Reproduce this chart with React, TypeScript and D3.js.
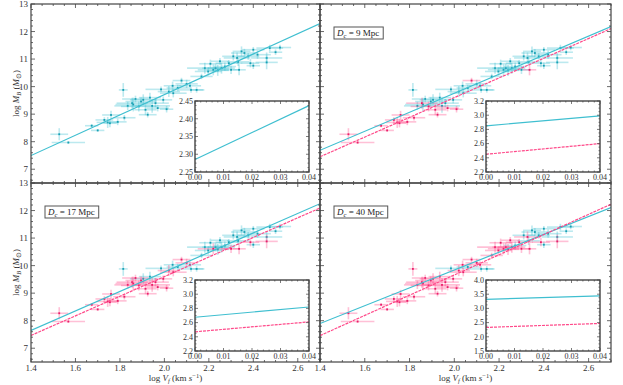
import React, { useEffect, useRef } from "react";
import * as d3 from "d3";

// galaxy sample: log V_f, log M_B, errors, distance (Mpc)
const logV = [1.527, 1.568, 1.673, 1.7, 1.73, 1.745, 1.755, 1.76, 1.79, 1.815, 1.82, 1.835, 1.855, 1.86, 1.87, 1.885,
  1.895, 1.905, 1.915, 1.925, 1.935, 1.945, 1.96, 1.97, 1.985, 1.995, 2.01, 2.02, 2.037, 2.04, 2.06, 2.077,
  2.1, 2.115, 2.12, 2.145, 2.167, 2.182, 2.197, 2.207, 2.22, 2.23, 2.24, 2.25, 2.257, 2.272, 2.29, 2.3,
  2.31, 2.327, 2.332, 2.336, 2.347, 2.36, 2.377, 2.387, 2.4, 2.4, 2.419, 2.46, 2.46, 2.474, 2.5, 2.52];
const logM = [8.27, 7.97, 8.58, 8.41, 8.79, 8.7, 8.67, 8.97, 8.72, 9.88, 8.87, 9.3, 9.4, 9.35, 9.55, 9.28,
  9.46, 9.52, 9.16, 8.98, 9.6, 9.3, 9.4, 9.22, 9.9, 9.52, 9.18, 9.82, 10.03, 9.76, 9.95, 10.22,
  10.1, 10.03, 9.88, 9.88, 10.37, 10.67, 10.55, 10.83, 10.61, 10.67, 10.59, 10.92, 10.67, 10.73, 10.85, 10.61,
  11.1, 11.04, 10.9, 10.61, 11.28, 11.22, 11.1, 10.85, 11.34, 10.76, 11.16, 11.04, 10.88, 11.4, 11.25, 11.42];
const errV = [0.04, 0.075, 0.03, 0.03, 0.04, 0.05, 0.03, 0.04, 0.04, 0.02, 0.05, 0.06, 0.07, 0.08, 0.06, 0.08,
  0.07, 0.06, 0.05, 0.04, 0.05, 0.08, 0.06, 0.05, 0.07, 0.04, 0.03, 0.05, 0.04, 0.06, 0.05, 0.04,
  0.05, 0.05, 0.06, 0.03, 0.05, 0.08, 0.06, 0.05, 0.07, 0.06, 0.05, 0.04, 0.06, 0.05, 0.06, 0.04,
  0.05, 0.06, 0.05, 0.03, 0.04, 0.06, 0.05, 0.04, 0.05, 0.03, 0.06, 0.07, 0.05, 0.06, 0.03, 0.05];
const errM = [0.22, 0.05, 0.06, 0.05, 0.1, 0.2, 0.15, 0.15, 0.12, 0.25, 0.1, 0.15, 0.2, 0.25, 0.12, 0.18,
  0.15, 0.2, 0.2, 0.1, 0.18, 0.25, 0.15, 0.12, 0.1, 0.12, 0.12, 0.2, 0.15, 0.15, 0.12, 0.1,
  0.15, 0.12, 0.1, 0.1, 0.1, 0.2, 0.15, 0.15, 0.2, 0.15, 0.2, 0.12, 0.2, 0.15, 0.12, 0.15,
  0.15, 0.2, 0.15, 0.2, 0.18, 0.15, 0.12, 0.15, 0.1, 0.12, 0.15, 0.2, 0.25, 0.12, 0.1, 0.1];
const dist = [5, 6, 7, 5, 8, 6, 7, 8, 6, 25, 8, 12, 7, 14, 15, 8,
  13, 30, 7, 8, 22, 11, 16, 8, 45, 12, 8, 15, 32, 14, 45, 8,
  16, 35, 50, 55, 20, 26, 30, 24, 16, 33, 38, 21, 29, 45, 31, 12,
  48, 36, 52, 8.5, 60, 42, 55, 15, 65, 70, 47, 58, 16, 75, 62, 80];

// per panel: distance cut, fits (intercept, slope), insets
const panelDc = [null, 9, 17, 40];
const cyanFit = [[2.33, 3.69], [2.85, 3.455], [2.69, 3.54], [3.36, 3.24]];
const pinkFit = [null, [2.44, 3.58], [2.48, 3.56], [2.32, 3.67]];
const insetYDomain = [[2.25, 2.45], [2.2, 3.2], [2.2, 3.2], [1.5, 4.0]];
const insetYTicks = [[2.25, 2.3, 2.35, 2.4, 2.45], [2.2, 2.4, 2.6, 2.8, 3.0, 3.2], [2.2, 2.4, 2.6, 2.8, 3.0, 3.2], [1.5, 2.0, 2.5, 3.0, 3.5, 4.0]];
const insetYFormat = [".2f", ".1f", ".1f", ".1f"];
const insetCyan = [[2.285, 2.437], [2.85, 2.99], [2.675, 2.82], [3.32, 3.44]];
const insetPink = [null, [2.45, 2.6], [2.47, 2.61], [2.33, 2.47]];
const insetXTicks = [0, 0.01, 0.02, 0.03, 0.04];

const xTicks = [1.4, 1.6, 1.8, 2.0, 2.2, 2.4, 2.6];
const yTicks = [7, 8, 9, 10, 11, 12, 13];

const CYAN = "#3fbfd0";
const CYAN_DARK = "#1a9fb3";
const PINK = "#ff4a8a";
const PINK_DARK = "#e8206a";
const FONT = "Liberation Serif, Times New Roman, serif";

export default function App() {
  const svgRef = useRef<SVGSVGElement>(null);

  useEffect(() => {
    const svg = d3.select(svgRef.current);
    svg.selectAll("*").remove();

    const colX = [[31, 320], [320, 611]];
    const rowY = [[4, 183], [183, 362]];

    panelDc.forEach((Dc, i) => {
      const col = i % 2;
      const row = Math.floor(i / 2);
      const [x0, x1] = colX[col];
      const [y0, y1] = rowY[row];
      const x = d3.scaleLinear().domain([1.4, 2.7]).range([x0, x1]);
      const y = d3.scaleLinear().domain([6.5, 13]).range([y1, y0]);

      const clipId = `clip${i}`;
      svg.append("clipPath").attr("id", clipId)
        .append("rect").attr("x", x0).attr("y", y0).attr("width", x1 - x0).attr("height", y1 - y0);

      const g = svg.append("g").attr("clip-path", `url(#${clipId})`);
      const idx = d3.range(logV.length);
      const pink = (k: number) => Dc != null && dist[k] < Dc;
      const order = [...idx.filter(k => !pink(k)), ...idx.filter(k => pink(k))];

      const pts = g.selectAll("g.pt").data(order).join("g");
      pts.append("line")
        .attr("x1", k => x(logV[k] - errV[k])).attr("x2", k => x(logV[k] + errV[k]))
        .attr("y1", k => y(logM[k])).attr("y2", k => y(logM[k]))
        .attr("stroke", k => pink(k) ? PINK : CYAN).attr("stroke-opacity", 0.35).attr("stroke-width", 1.6);
      pts.append("line")
        .attr("x1", k => x(logV[k])).attr("x2", k => x(logV[k]))
        .attr("y1", k => y(logM[k] - errM[k])).attr("y2", k => y(logM[k] + errM[k]))
        .attr("stroke", k => pink(k) ? PINK : CYAN).attr("stroke-opacity", 0.35).attr("stroke-width", 1.6);
      pts.append("rect")
        .attr("x", k => x(logV[k]) - 0.9).attr("y", k => y(logM[k]) - 0.9)
        .attr("width", 1.8).attr("height", 1.8)
        .attr("fill", k => pink(k) ? PINK_DARK : CYAN_DARK);

      const fitLine = (f: number[]) => d3.line<number>().x(v => x(v)).y(v => y(f[0] + f[1] * v))([1.4, 2.7]);
      g.append("path").attr("d", fitLine(cyanFit[i])).attr("stroke", CYAN).attr("stroke-width", 1.2).attr("fill", "none");
      if (pinkFit[i]) {
        g.append("path").attr("d", fitLine(pinkFit[i] as number[])).attr("stroke", PINK)
          .attr("stroke-width", 1.2).attr("stroke-dasharray", "3,1").attr("fill", "none");
      }

      // frame and ticks
      const f = svg.append("g");
      f.append("rect").attr("x", x0).attr("y", y0).attr("width", x1 - x0).attr("height", y1 - y0)
        .attr("fill", "none").attr("stroke", "#444").attr("stroke-width", 1.2);
      const minorX = d3.range(1.45, 2.7, 0.05).map(v => +v.toFixed(2)).filter(v => !xTicks.includes(v));
      const minorY = d3.range(6.6, 13, 0.2).map(v => +v.toFixed(1)).filter(v => !yTicks.includes(v));
      const tickX = (vals: number[], len: number) => vals.forEach(v => {
        f.append("line").attr("x1", x(v)).attr("x2", x(v)).attr("y1", y1).attr("y2", y1 - len).attr("stroke", "#444").attr("stroke-width", 0.8);
        f.append("line").attr("x1", x(v)).attr("x2", x(v)).attr("y1", y0).attr("y2", y0 + len).attr("stroke", "#444").attr("stroke-width", 0.8);
      });
      const tickY = (vals: number[], len: number) => vals.forEach(v => {
        f.append("line").attr("y1", y(v)).attr("y2", y(v)).attr("x1", x0).attr("x2", x0 + len).attr("stroke", "#444").attr("stroke-width", 0.8);
        f.append("line").attr("y1", y(v)).attr("y2", y(v)).attr("x1", x1).attr("x2", x1 - len).attr("stroke", "#444").attr("stroke-width", 0.8);
      });
      tickX(xTicks, 4); tickX(minorX, 2);
      tickY(yTicks, 4); tickY(minorY, 2);

      if (col === 0) {
        f.selectAll("text.yl").data(yTicks).join("text")
          .attr("x", x0 - 3).attr("y", v => y(v)).attr("dy", "0.35em")
          .attr("text-anchor", "end").attr("font-family", FONT).attr("font-size", 9).attr("fill", "#333")
          .text(v => v);
        const t = f.append("text")
          .attr("transform", `translate(19,${(y0 + y1) / 2}) rotate(-90)`)
          .attr("text-anchor", "middle").attr("font-family", FONT).attr("font-size", 9).attr("fill", "#333");
        t.append("tspan").text("log ");
        t.append("tspan").attr("font-style", "italic").text("M");
        t.append("tspan").attr("font-size", 6.5).attr("dy", 2).attr("font-style", "italic").text("B");
        t.append("tspan").attr("dy", -2).text(" (");
        t.append("tspan").attr("font-style", "italic").text("M");
        t.append("tspan").attr("font-size", 6.5).attr("dy", 2).text("\u2299");
        t.append("tspan").attr("dy", -2).text(")");
      }
      if (row === 1) {
        f.selectAll("text.xl").data(xTicks).join("text")
          .attr("x", v => x(v)).attr("y", y1 + 9)
          .attr("text-anchor", "middle").attr("font-family", FONT).attr("font-size", 9).attr("fill", "#333")
          .text(v => d3.format(".1f")(v));
        const t = f.append("text").attr("x", (x0 + x1) / 2).attr("y", 381)
          .attr("text-anchor", "middle").attr("font-family", FONT).attr("font-size", 9).attr("fill", "#333");
        t.append("tspan").text("log ");
        t.append("tspan").attr("font-style", "italic").text("V");
        t.append("tspan").attr("font-size", 6.5).attr("dy", 2).attr("font-style", "italic").text("f");
        t.append("tspan").attr("dy", -2).text(" (km ");
        t.append("tspan").attr("font-style", "italic").text("s");
        t.append("tspan").attr("font-size", 6.5).attr("dy", -3).text("\u22121");
        t.append("tspan").attr("dy", 3).text(")");
      }

      // distance label box
      if (Dc != null) {
        const lx = x0 + 14;
        const ly = y0 + 23;
        const box = f.append("rect").attr("x", lx).attr("y", ly).attr("height", 12)
          .attr("fill", "white").attr("stroke", "#555").attr("stroke-width", 1);
        const t = f.append("text").attr("x", lx + 3).attr("y", ly + 9)
          .attr("font-family", FONT).attr("font-size", 9).attr("fill", "#222");
        t.append("tspan").attr("font-style", "italic").text("D");
        t.append("tspan").attr("font-size", 6.5).attr("dy", 2).attr("font-style", "italic").text("c");
        t.append("tspan").attr("dy", -2).text(` = ${Dc} Mpc`);
        const bb = (t.node() as SVGTextElement).getBBox();
        box.attr("width", bb.width + 6);
      }

      // inset
      const ix1 = x1 - 11;
      const ix0 = ix1 - 114;
      const iy0 = y0 + 97;
      const iy1 = y1 - 11;
      const ix = d3.scaleLinear().domain([0, 0.04]).range([ix0, ix1]);
      const iy = d3.scaleLinear().domain(insetYDomain[i]).range([iy1, iy0]);
      const ins = svg.append("g");
      ins.append("rect").attr("x", ix0).attr("y", iy0).attr("width", ix1 - ix0).attr("height", iy1 - iy0)
        .attr("fill", "white");
      const il = d3.line<number>().x(v => ix(v));
      const ic = insetCyan[i];
      ins.append("path").attr("d", il.y((v, j) => iy(ic[j]))([0, 0.04])).attr("stroke", CYAN)
        .attr("stroke-width", 1.2).attr("fill", "none");
      const ip = insetPink[i];
      if (ip) {
        ins.append("path").attr("d", d3.line<number>().x(v => ix(v)).y((v, j) => iy(ip[j]))([0, 0.04]))
          .attr("stroke", PINK).attr("stroke-width", 1.2).attr("stroke-dasharray", "3,1").attr("fill", "none");
      }
      ins.append("rect").attr("x", ix0).attr("y", iy0).attr("width", ix1 - ix0).attr("height", iy1 - iy0)
        .attr("fill", "none").attr("stroke", "#444").attr("stroke-width", 1.4);
      const yt = insetYTicks[i];
      const ystep = yt[1] - yt[0];
      const iminorY = d3.range(insetYDomain[i][0], insetYDomain[i][1], ystep / 4).filter((v, j) => j % 4 !== 0);
      const iminorX = d3.range(0, 0.04, 0.002).filter((v, j) => j % 5 !== 0);
      const itX = (vals: number[], len: number) => vals.forEach(v => {
        ins.append("line").attr("x1", ix(v)).attr("x2", ix(v)).attr("y1", iy1).attr("y2", iy1 - len).attr("stroke", "#444").attr("stroke-width", 0.7);
        ins.append("line").attr("x1", ix(v)).attr("x2", ix(v)).attr("y1", iy0).attr("y2", iy0 + len).attr("stroke", "#444").attr("stroke-width", 0.7);
      });
      const itY = (vals: number[], len: number) => vals.forEach(v => {
        ins.append("line").attr("y1", iy(v)).attr("y2", iy(v)).attr("x1", ix0).attr("x2", ix0 + len).attr("stroke", "#444").attr("stroke-width", 0.7);
        ins.append("line").attr("y1", iy(v)).attr("y2", iy(v)).attr("x1", ix1).attr("x2", ix1 - len).attr("stroke", "#444").attr("stroke-width", 0.7);
      });
      itX(insetXTicks, 3); itX(iminorX, 1.5);
      itY(yt, 3); itY(iminorY, 1.5);
      ins.selectAll("text.iy").data(yt).join("text")
        .attr("x", ix0 - 2).attr("y", v => iy(v)).attr("dy", "0.35em")
        .attr("text-anchor", "end").attr("font-family", FONT).attr("font-size", 8).attr("fill", "#333")
        .text(v => d3.format(insetYFormat[i])(v));
      ins.selectAll("text.ix").data(insetXTicks).join("text")
        .attr("x", v => ix(v)).attr("y", iy1 + 8)
        .attr("text-anchor", "middle").attr("font-family", FONT).attr("font-size", 8).attr("fill", "#333")
        .text(v => d3.format(".2f")(v));
    });
  }, []);

  return (
    <svg ref={svgRef} width={623} height={385}
      style={{ position: "absolute", left: 0, top: 0, background: "white" }} />
  );
}
